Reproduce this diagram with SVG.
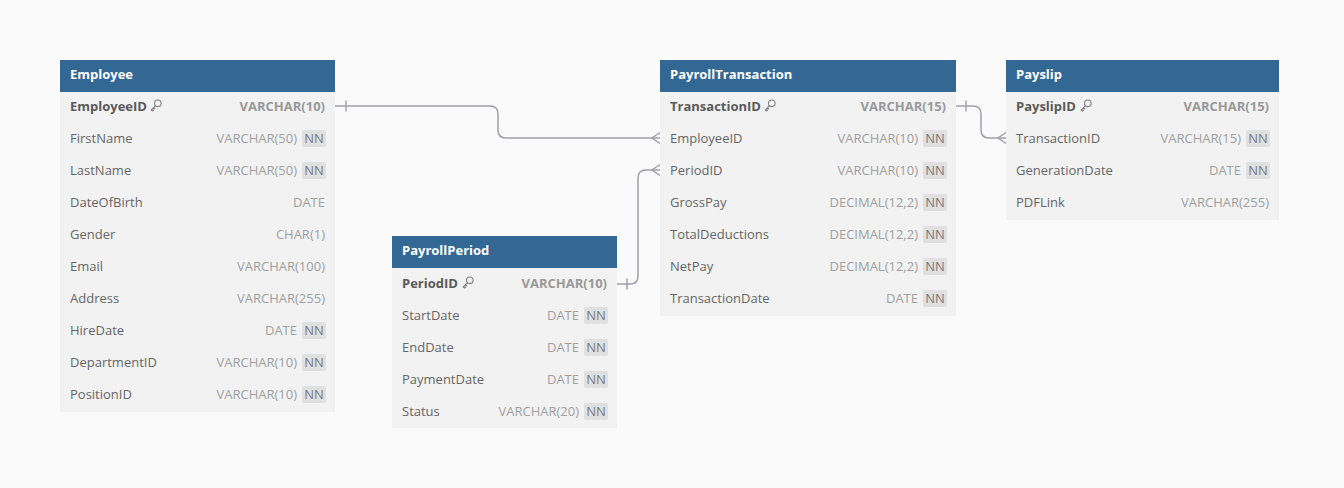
<svg xmlns="http://www.w3.org/2000/svg" width="1344" height="488" viewBox="0 0 1344 488">
<defs>
<style>
.bg{fill:#fafafa}
.hd{fill:#336894}
.bd{fill:#f2f2f2}
.ht{font-family:"Open Sans","Liberation Sans",sans-serif;font-size:13px;font-weight:700;fill:#ffffff}
.nm{font-family:"Open Sans","Liberation Sans",sans-serif;font-size:13px;fill:#666666}
.ty{font-family:"Open Sans","Liberation Sans",sans-serif;font-size:13px;fill:#a0a0a0;text-anchor:end}
.k{font-weight:700}
.nm.k{fill:#5a5a5a}
.ty.k{fill:#999999}
.nnb{fill:#e0e0e0}
.nnt{font-family:"Open Sans","Liberation Sans",sans-serif;font-size:13px;fill:#7a7a7a;text-anchor:middle}
.key{fill:none;stroke:#808080;stroke-width:1.1;stroke-linecap:round;stroke-linejoin:round}
.cn{fill:none;stroke:#a0a0a8;stroke-width:1.5}
</style>
<g id="keyicon"><circle class="key" cx="7.8" cy="3.8" r="3.3"/><path class="key" d="M5.4 6.3 L1.2 10.5 L2.6 11.5 L3.6 10.5 M3.4 8.3 L4.8 9.3"/></g>
</defs>
<rect class="bg" x="0" y="0" width="1344" height="488"/>

<g id="connectors">
<path class="cn" d="M335 106 H490 Q498 106 498 114 V130 Q498 138 506 138 H660"/>
<path class="cn" d="M346 100.5 V111.5"/>
<path class="cn" d="M660 132.5 L652 138 L660 143.5"/>
<path class="cn" d="M617 284 H630 Q638 284 638 276 V178 Q638 170 646 170 H660"/>
<path class="cn" d="M627 278.5 V289.5"/>
<path class="cn" d="M660 164.5 L652 170 L660 175.5"/>
<path class="cn" d="M956 106 H973 Q981 106 981 114 V130 Q981 138 989 138 H1006"/>
<path class="cn" d="M966 100.5 V111.5"/>
<path class="cn" d="M1006 132.5 L998 138 L1006 143.5"/>
</g>

<g id="Employee">
<rect class="hd" x="60" y="60" width="275" height="32"/>
<rect class="bd" x="60" y="92" width="275" height="320"/>
<text class="ht" x="70" y="79">Employee</text>
<text class="nm k" x="70" y="110.5">EmployeeID</text><use href="#keyicon" x="150" y="99.5"/><text class="ty k" x="325" y="110.5">VARCHAR(10)</text>
<text class="nm" x="70" y="142.5">FirstName</text><text class="ty" x="297" y="142.5">VARCHAR(50)</text><rect class="nnb" x="302" y="130" width="24" height="17" rx="2"/><text class="nnt" x="314" y="142.5">NN</text>
<text class="nm" x="70" y="174.5">LastName</text><text class="ty" x="297" y="174.5">VARCHAR(50)</text><rect class="nnb" x="302" y="162" width="24" height="17" rx="2"/><text class="nnt" x="314" y="174.5">NN</text>
<text class="nm" x="70" y="206.5">DateOfBirth</text><text class="ty" x="325" y="206.5">DATE</text>
<text class="nm" x="70" y="238.5">Gender</text><text class="ty" x="325" y="238.5">CHAR(1)</text>
<text class="nm" x="70" y="270.5">Email</text><text class="ty" x="325" y="270.5">VARCHAR(100)</text>
<text class="nm" x="70" y="302.5">Address</text><text class="ty" x="325" y="302.5">VARCHAR(255)</text>
<text class="nm" x="70" y="334.5">HireDate</text><text class="ty" x="297" y="334.5">DATE</text><rect class="nnb" x="302" y="322" width="24" height="17" rx="2"/><text class="nnt" x="314" y="334.5">NN</text>
<text class="nm" x="70" y="366.5">DepartmentID</text><text class="ty" x="297" y="366.5">VARCHAR(10)</text><rect class="nnb" x="302" y="354" width="24" height="17" rx="2"/><text class="nnt" x="314" y="366.5">NN</text>
<text class="nm" x="70" y="398.5">PositionID</text><text class="ty" x="297" y="398.5">VARCHAR(10)</text><rect class="nnb" x="302" y="386" width="24" height="17" rx="2"/><text class="nnt" x="314" y="398.5">NN</text>
</g>

<g id="PayrollTransaction">
<rect class="hd" x="660" y="60" width="296" height="32"/>
<rect class="bd" x="660" y="92" width="296" height="224"/>
<text class="ht" x="670" y="79">PayrollTransaction</text>
<text class="nm k" x="670" y="110.5">TransactionID</text><use href="#keyicon" x="764" y="99.5"/><text class="ty k" x="946" y="110.5">VARCHAR(15)</text>
<text class="nm" x="670" y="142.5">EmployeeID</text><text class="ty" x="918" y="142.5">VARCHAR(10)</text><rect class="nnb" x="923" y="130" width="24" height="17" rx="2"/><text class="nnt" x="935" y="142.5">NN</text>
<text class="nm" x="670" y="174.5">PeriodID</text><text class="ty" x="918" y="174.5">VARCHAR(10)</text><rect class="nnb" x="923" y="162" width="24" height="17" rx="2"/><text class="nnt" x="935" y="174.5">NN</text>
<text class="nm" x="670" y="206.5">GrossPay</text><text class="ty" x="918" y="206.5">DECIMAL(12,2)</text><rect class="nnb" x="923" y="194" width="24" height="17" rx="2"/><text class="nnt" x="935" y="206.5">NN</text>
<text class="nm" x="670" y="238.5">TotalDeductions</text><text class="ty" x="918" y="238.5">DECIMAL(12,2)</text><rect class="nnb" x="923" y="226" width="24" height="17" rx="2"/><text class="nnt" x="935" y="238.5">NN</text>
<text class="nm" x="670" y="270.5">NetPay</text><text class="ty" x="918" y="270.5">DECIMAL(12,2)</text><rect class="nnb" x="923" y="258" width="24" height="17" rx="2"/><text class="nnt" x="935" y="270.5">NN</text>
<text class="nm" x="670" y="302.5">TransactionDate</text><text class="ty" x="918" y="302.5">DATE</text><rect class="nnb" x="923" y="290" width="24" height="17" rx="2"/><text class="nnt" x="935" y="302.5">NN</text>
</g>

<g id="Payslip">
<rect class="hd" x="1006" y="60" width="273" height="32"/>
<rect class="bd" x="1006" y="92" width="273" height="128"/>
<text class="ht" x="1016" y="79">Payslip</text>
<text class="nm k" x="1016" y="110.5">PayslipID</text><use href="#keyicon" x="1080" y="99.5"/><text class="ty k" x="1269" y="110.5">VARCHAR(15)</text>
<text class="nm" x="1016" y="142.5">TransactionID</text><text class="ty" x="1241" y="142.5">VARCHAR(15)</text><rect class="nnb" x="1246" y="130" width="24" height="17" rx="2"/><text class="nnt" x="1258" y="142.5">NN</text>
<text class="nm" x="1016" y="174.5">GenerationDate</text><text class="ty" x="1241" y="174.5">DATE</text><rect class="nnb" x="1246" y="162" width="24" height="17" rx="2"/><text class="nnt" x="1258" y="174.5">NN</text>
<text class="nm" x="1016" y="206.5">PDFLink</text><text class="ty" x="1269" y="206.5">VARCHAR(255)</text>
</g>

<g id="PayrollPeriod">
<rect class="hd" x="392" y="236" width="225" height="32"/>
<rect class="bd" x="392" y="268" width="225" height="160"/>
<text class="ht" x="402" y="255">PayrollPeriod</text>
<text class="nm k" x="402" y="287.5">PeriodID</text><use href="#keyicon" x="462" y="276.5"/><text class="ty k" x="607" y="287.5">VARCHAR(10)</text>
<text class="nm" x="402" y="319.5">StartDate</text><text class="ty" x="579" y="319.5">DATE</text><rect class="nnb" x="584" y="307" width="24" height="17" rx="2"/><text class="nnt" x="596" y="319.5">NN</text>
<text class="nm" x="402" y="351.5">EndDate</text><text class="ty" x="579" y="351.5">DATE</text><rect class="nnb" x="584" y="339" width="24" height="17" rx="2"/><text class="nnt" x="596" y="351.5">NN</text>
<text class="nm" x="402" y="383.5">PaymentDate</text><text class="ty" x="579" y="383.5">DATE</text><rect class="nnb" x="584" y="371" width="24" height="17" rx="2"/><text class="nnt" x="596" y="383.5">NN</text>
<text class="nm" x="402" y="415.5">Status</text><text class="ty" x="579" y="415.5">VARCHAR(20)</text><rect class="nnb" x="584" y="403" width="24" height="17" rx="2"/><text class="nnt" x="596" y="415.5">NN</text>
</g>
</svg>
